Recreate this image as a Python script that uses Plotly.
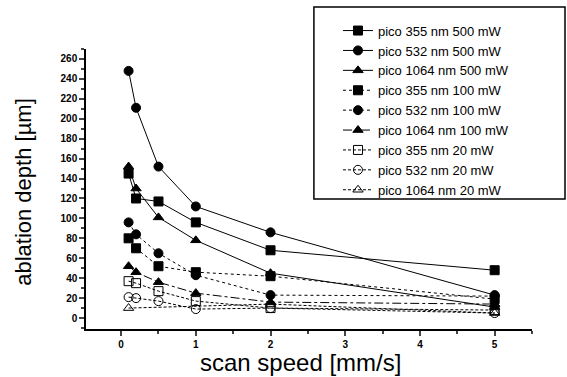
import plotly.graph_objects as go

speed = [0.1, 0.2, 0.5, 1, 2, 5]

names = [
    "pico 355 nm 500 mW", "pico 532 nm 500 mW", "pico 1064 nm 500 mW",
    "pico 355 nm 100 mW", "pico 532 nm 100 mW", "pico 1064 nm 100 mW",
    "pico 355 nm 20 mW", "pico 532 nm 20 mW", "pico 1064 nm 20 mW",
]

d355_500 = [145, 120, 117, 96, 68, 48]
d532_500 = [248, 211, 152, 112, 86, 23]
d1064_500 = [152, 130, 101, 78, 45, 11]
d355_100 = [80, 70, 52, 46, 42, 19]
d532_100 = [96, 84, 65, 43, 23, 22]
d1064_100 = [52, 46, 36, 25, 16, 14]
d355_20 = [37, 35, 27, 17, 10, 8]
d532_20 = [21, 20, 17, 9, 10, 5]
speed_1064_20 = [0.1, 2, 5]
d1064_20 = [10, 14, 5]

x_title = "scan speed [mm/s]"
y_title = "ablation depth [µm]"

symbols = ["square", "circle", "triangle-up",
           "square", "circle", "triangle-up",
           "square-open", "circle-open", "triangle-up-open"]
dashes = ["solid"] * 3 + ["dot", "dot", "dashdot"] + ["3px,2px"] * 3
xs = [speed] * 8 + [speed_1064_20]
ys = [d355_500, d532_500, d1064_500, d355_100, d532_100, d1064_100,
      d355_20, d532_20, d1064_20]

fig = go.Figure()
for n, x, y, s, dsh in zip(names, xs, ys, symbols, dashes):
    fig.add_trace(go.Scatter(
        x=x, y=y, name=n, mode="lines+markers",
        line=dict(color="black", width=1, dash=dsh),
        marker=dict(symbol=s, size=9, color="black",
                    line=dict(color="black", width=1)),
    ))

# legend frame
fig.add_shape(type="rect", xref="paper", yref="paper",
              x0=0.511, x1=1.074, y0=0.464, y1=1.15,
              line=dict(color="black", width=1.5), fillcolor="rgba(0,0,0,0)")

# axis titles
fig.add_annotation(text=x_title, xref="paper", yref="paper",
                   x=0.48, y=-0.064, xanchor="center", yanchor="top",
                   showarrow=False, font=dict(size=24))
fig.add_annotation(text=y_title, xref="paper", yref="paper",
                   x=-0.139, y=0.49, xanchor="center", yanchor="middle",
                   textangle=-90, showarrow=False, font=dict(size=22))

fig.update_layout(
    width=567, height=377,
    margin=dict(l=86, r=35, t=49, b=48),
    plot_bgcolor="white", paper_bgcolor="white",
    font=dict(family="Liberation Sans, Arial, sans-serif", color="black"),
    showlegend=True,
    legend=dict(x=0.565, y=0.78, xanchor="left", yanchor="middle",
                borderwidth=0, font=dict(size=13), tracegroupgap=0,
                itemwidth=30, bgcolor="rgba(0,0,0,0)"),
)
fig.update_xaxes(
    range=[-0.47, 5.5], tickvals=[0, 1, 2, 3, 4, 5],
    ticks="outside", ticklen=5, tickwidth=1.5,
    minor=dict(tickvals=[0.5, 1.5, 2.5, 3.5, 4.5, 5.5], ticks="outside", ticklen=3),
    showline=True, linecolor="black", linewidth=1.5, showgrid=False, zeroline=False,
    tickfont=dict(size=10, weight="bold"),
)
fig.update_yaxes(
    range=[-11, 270], tickvals=list(range(0, 261, 20)),
    ticks="outside", ticklen=5, tickwidth=1.5,
    minor=dict(tickvals=list(range(-10, 271, 10)), ticks="outside", ticklen=3),
    showline=True, linecolor="black", linewidth=1.5, showgrid=False, zeroline=False,
    tickfont=dict(size=10, weight="bold"),
)
fig.write_html("out.html", config={"displayModeBar": False},
               post_script="document.body.style.margin='0';")
